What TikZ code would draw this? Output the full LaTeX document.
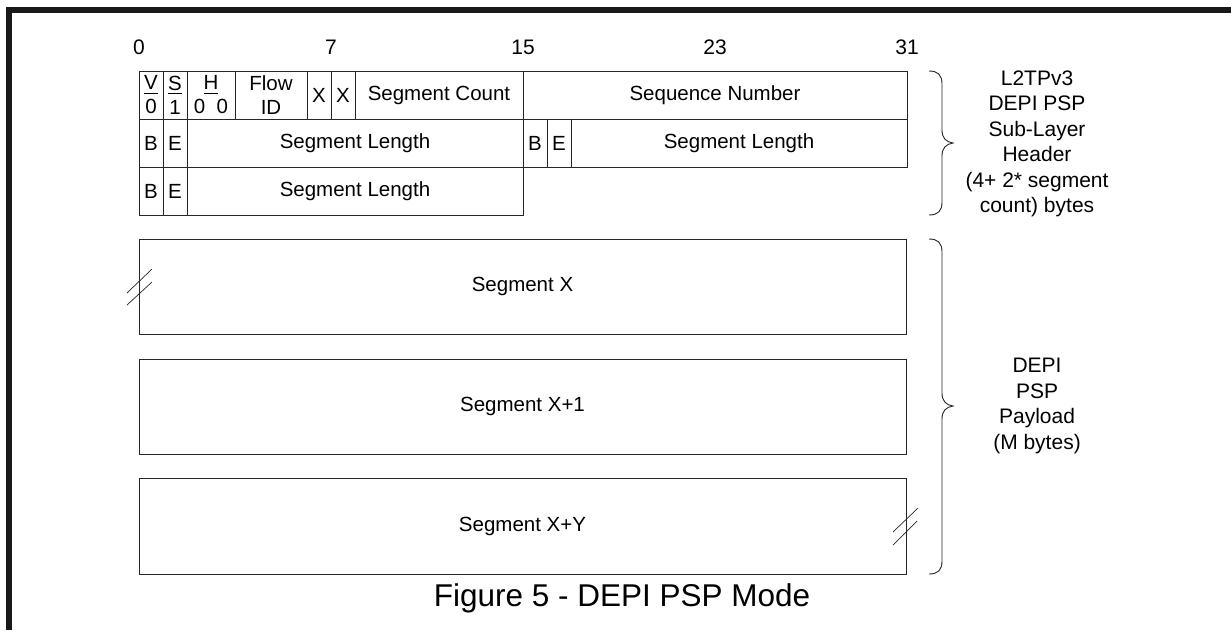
\documentclass[tikz,border=0pt]{standalone}
\usepackage{fontspec}
\setmainfont{Liberation Sans}
\newcommand{\tblfont}{\fontsize{20.5}{24}\selectfont}
\newcommand{\lblfont}{\fontsize{21}{25.5}\selectfont}
\newcommand{\capfont}{\fontsize{31.5}{36}\selectfont}
\newcommand{\ulx}[1]{{\setbox0\hbox{#1}\rlap{\rule[-3.6pt]{\wd0}{0.8pt}}\box0}}
\begin{document}
\begin{tikzpicture}[x=1pt,y=-1pt,
  cell/.style={draw=black!85, line width=0.8pt, inner sep=0pt, outer sep=0pt,
    anchor=north west, minimum height=48pt, align=center, font=\tblfont},
  segbox/.style={draw=black!85, line width=0.9pt, inner sep=0pt, outer sep=0pt,
    anchor=north west, minimum width=767pt, font=\tblfont},
  bitlbl/.style={font=\lblfont, inner sep=0pt},
  sidetxt/.style={font=\lblfont, align=center, inner sep=0pt},
  bracepath/.style={draw=black!85, line width=0.9pt},
  breakmark/.style={draw=black!85, line width=0.7pt},
  frame/.style={fill=black!90, draw=none}
]
\useasboundingbox (0,0) rectangle (1231,630);
% outer frame bars
\path[frame] (6,7) rectangle (1231,13);
\path[frame] (6,7) rectangle (12,630);

% bit numbers
\node[bitlbl] (b0) at (139,47) {0};
\node[bitlbl] (b7) at (331,47) {7};
\node[bitlbl] (b15) at (523,47) {15};
\node[bitlbl] (b23) at (715,47) {23};
\node[bitlbl] (b31) at (907,47) {31};

% row 1
\node[cell, minimum width=24pt] (v) at (139,71) {\ulx{V}\\0};
\node[cell, minimum width=24pt] (s) at (163,71) {\ulx{S}\\1};
\node[cell, minimum width=48pt] (h) at (187,71) {\ulx{H}\\0\hspace{11.5pt}0};
\node[cell, minimum width=72pt] (flow) at (235,71) {Flow\\ID};
\node[cell, minimum width=24pt] (xa) at (307,71) {X};
\node[cell, minimum width=24pt] (xb) at (331,71) {X};
\node[cell, minimum width=168pt] (scount) at (355,71) {Segment Count};
\node[cell, minimum width=384pt] (seqnum) at (523,71) {Sequence Number};
% row 2
\node[cell, minimum width=24pt] (b1) at (139,119) {B};
\node[cell, minimum width=24pt] (e1) at (163,119) {E};
\node[cell, minimum width=336pt] (len1) at (187,119) {Segment Length};
\node[cell, minimum width=24pt] (b2) at (523,119) {B};
\node[cell, minimum width=24pt] (e2) at (547,119) {E};
\node[cell, minimum width=336pt] (len2) at (571,119) {Segment Length};
% row 3
\node[cell, minimum width=24pt] (b3) at (139,167) {B};
\node[cell, minimum width=24pt] (e3) at (163,167) {E};
\node[cell, minimum width=336pt] (len3) at (187,167) {Segment Length};

% segments
\node[segbox, minimum height=95pt] (segx) at (139,239) {Segment X};
\node[segbox, minimum height=95pt] (segx1) at (139,359) {Segment X+1};
\node[segbox, minimum height=96pt] (segxy) at (139,478) {Segment X+Y};

% break marks
\draw[breakmark] (127,293) -- (152,269);
\draw[breakmark] (127,305) -- (152,282);
\draw[breakmark] (893,532) -- (918,508);
\draw[breakmark] (893,545) -- (917,521);

% braces
\coordinate (hbt) at (929,71);
\coordinate (hbb) at (929,215);
\coordinate (pbt) at (929,239);
\coordinate (pbb) at (929,574);
\draw[bracepath] (hbt) .. controls (938,71) and (942,75) .. (942,84)
  -- (942,130) .. controls (942,138) and (946,142) .. (953,143)
  .. controls (946,144) and (942,148) .. (942,156)
  -- (942,202) .. controls (942,211) and (938,215) .. (hbb);
\draw[bracepath] (pbt) .. controls (938,239) and (942,243) .. (942,252)
  -- (942,393) .. controls (942,401) and (946,405) .. (953,406)
  .. controls (946,407) and (942,411) .. (942,419)
  -- (942,561) .. controls (942,570) and (938,574) .. (pbb);

% side texts
\node[sidetxt] (hdrtxt) at (1037,144) {L2TPv3\\DEPI PSP\\Sub-Layer\\Header\\(4+ 2* segment\\count) bytes};
\node[sidetxt] (paytxt) at (1037,406) {DEPI\\PSP\\Payload\\(M bytes)};

% caption
\node[font=\capfont, inner sep=0pt] (caption) at (622,598) {Figure 5 - DEPI PSP Mode};
\end{tikzpicture}
\end{document}
